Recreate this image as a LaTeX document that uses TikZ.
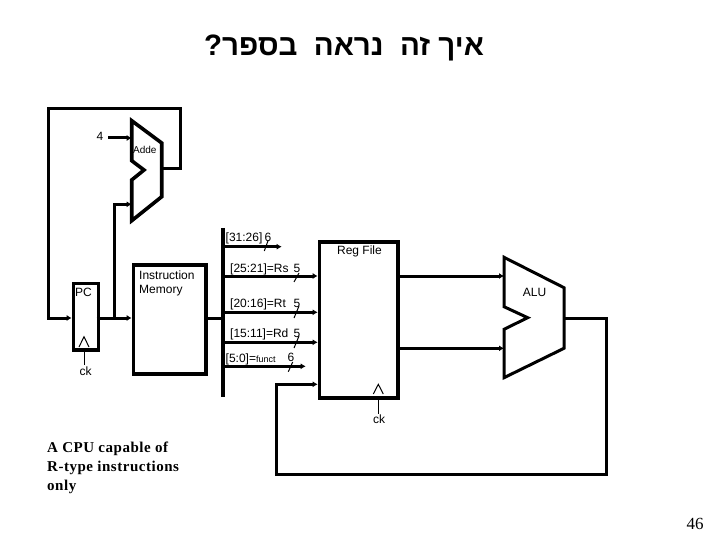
\documentclass[tikz,border=0pt]{standalone}
\usepackage{fontspec}
\setmainfont{Liberation Sans}
\newfontfamily\serifbody{Liberation Serif}
\newfontfamily\serifcap[LetterSpace=3.5]{Liberation Serif}
\newfontfamily\hebfont[Script=Hebrew]{Liberation Sans}
\TeXXeTstate=1
\usetikzlibrary{arrows.meta,calc}
\tikzset{
  x=1pt,y=-1pt,
  lbl/.style={inner sep=0pt,font=\fontsize{12}{12}\selectfont},
  lbll/.style={lbl,anchor=west},
  box/.style={draw=black,line width=3.6pt,minimum width=0pt,inner sep=0pt,anchor=north west},
  wire/.style={draw=black,line width=3pt},
  wirea/.style={wire,-{Latex[length=5pt,width=6pt]}},
  thinw/.style={draw=black,line width=1pt},
  outline/.style={draw=black,line width=3.6pt,line join=miter},
  captext/.style={inner sep=0pt,anchor=west,font=\serifcap\bfseries\fontsize{15}{15}\selectfont}
}
\begin{document}
\begin{tikzpicture}
\useasboundingbox (0,0) rectangle (720,540);
% title
\node[inner sep=0pt] (title) at (344,48) {\hebfont\bfseries\fontsize{29.5}{30}\selectfont\beginR איך זה\ \ נראה\ \ בספר?\endR};
% boxes
\node[box,minimum width=25pt,minimum height=66.5pt] (pc) at (71.7,281.7) {};
\node[box,minimum width=72.6pt,minimum height=109pt] (im) at (131.7,263.3) {};
\node[box,minimum width=78.3pt,minimum height=156pt] (rf) at (317.7,240) {};
% adder
\coordinate (a1) at (131.7,120.7);
\coordinate (a2) at (161.7,143);
\coordinate (a3) at (161.7,196.7);
\coordinate (a4) at (131.7,220.7);
\coordinate (a5) at (131.7,180);
\coordinate (a6) at (144,170);
\coordinate (a7) at (131.7,160.7);
\draw[outline] (a1)--(a2)--(a3)--(a4)--(a5)--(a6)--(a7)--cycle;
% alu
\coordinate (b1) at (504,257.3);
\coordinate (b2) at (564,287.7);
\coordinate (b3) at (564,348.3);
\coordinate (b4) at (504,377.7);
\coordinate (b5) at (504,329.3);
\coordinate (b6) at (527.7,317.7);
\coordinate (b7) at (504,306.7);
\draw[outline,line width=3pt] (b1)--(b2)--(b3)--(b4)--(b5)--(b6)--(b7)--cycle;
% labels
\node[lbl] (four) at (100,136.5) {4};
\node[inner sep=0pt,anchor=west,font=\fontsize{10}{10}\selectfont] (addl) at (133,149.5) {Adde};
\node[lbl] (pcl) at (83.5,292.5) {PC};
\node[lbll] (im1) at (139,275) {Instruction};
\node[lbll] (im2) at (139,290.5) {Memory};
\node[lbl] (ck1) at (85.5,371) {ck};
\node[lbl] (rfl) at (359.5,251) {Reg File};
\node[lbl] (ck2) at (379,419) {ck};
\node[lbl] (alul) at (534.5,292.5) {ALU};
\node[lbll] (t1) at (225.5,238.5) {[31:26]};
\node[lbl] (n1) at (268,237) {6};
\node[lbll] (t2) at (230,269.5) {[25:21]=Rs};
\node[lbl] (n2) at (297,268) {5};
\node[lbll] (t3) at (230,304.5) {[20:16]=Rt};
\node[lbl] (n3) at (297,303) {5};
\node[lbll] (t4) at (230,334.5) {[15:11]=Rd};
\node[lbl] (n4) at (297,333) {5};
\node[lbll] (t5) at (225.5,359.5) {[5:0]=\fontsize{9}{9}\selectfont funct};
\node[lbl] (n5) at (291,357) {6};
\node[captext] (c1) at (47,448.5) {A CPU capable of};
\node[captext] (c2) at (47,467.5) {R-type instructions};
\node[captext] (c3) at (47,486.5) {only};
\node[inner sep=0pt,font=\serifbody\fontsize{17}{17}\selectfont] (page) at (695,524) {46};
% junctions
\coordinate (fbA) at (180,168.3);
\coordinate (fbB) at (180,108.3);
\coordinate (fbC) at (48.3,108.3);
\coordinate (fbD) at (48.3,318);
\coordinate (pcin) at (71.7,318);
\coordinate (pcout) at (96.7,318);
\coordinate (imin) at (131.7,318);
\coordinate (tap) at (114,318);
\coordinate (tapup) at (114,204.3);
\coordinate (addin) at (131.7,204.3);
\coordinate (fourS) at (108,138);
\coordinate (fourE) at (131.7,138);
\coordinate (addout) at (161.7,168.3);
\coordinate (imout) at (204.3,318);
\coordinate (busT) at (222.7,228);
\coordinate (busB) at (222.7,396.7);
\coordinate (busM) at (222.7,318);
% wires
\draw[wirea,line join=miter] (addout)--(fbA)--(fbB)--(fbC)--(fbD)--(pcin);
\draw[wirea] (pcout)--(imin);
\draw[wirea,line join=miter] (tap)--(tapup)--(addin);
\draw[wirea] (fourS)--(fourE);
\draw[wire] (imout)--(busM);
\draw[wire,line width=3.6pt] (busT)--(busB);
\foreach \n/\y/\xe in {r1/246.7/281.7,r2/276/317.7,r3/312.3/317.7,r4/342.3/317.7,r5/366.3/305.7}{
  \coordinate (\n s) at (222.7,\y);
  \coordinate (\n e) at (\xe,\y);
  \draw[wirea] (\n s)--(\n e);
}
\coordinate (wb1) at (276.7,384.3);
\coordinate (wb2) at (276.7,474.3);
\coordinate (wb3) at (606.7,474.3);
\coordinate (wb4) at (606.7,318.3);
\coordinate (aluout) at (564,318.3);
\coordinate (wbe) at (317.7,384.3);
\draw[wirea,line join=miter] (aluout)--(wb4)--(wb3)--(wb2)--(wb1)--(wbe);
\coordinate (o1s) at (396,276);
\coordinate (o1e) at (504,276);
\coordinate (o2s) at (396,348.3);
\coordinate (o2e) at (504,348.3);
\draw[wirea] (o1s)--(o1e);
\draw[wirea] (o2s)--(o2e);
% clocks
\coordinate (k1a) at (79,347);\coordinate (k1b) at (84,336.7);\coordinate (k1c) at (89,347);
\draw[thinw] (k1a)--(k1b)--(k1c);
\coordinate (k1s) at (84,348);\coordinate (k1e) at (84,365);
\draw[thinw] (k1s)--(k1e);
\coordinate (k2a) at (373.3,394);\coordinate (k2b) at (378.3,384.3);\coordinate (k2c) at (383.3,394);
\draw[thinw] (k2a)--(k2b)--(k2c);
\coordinate (k2s) at (378.3,396);\coordinate (k2e) at (378.3,414);
\draw[thinw] (k2s)--(k2e);
% bus slashes
\foreach \n/\xa/\ya/\xb/\yb in {s1/268.3/240/264.3/251,s2/299/273/294/282,s3/299/306/294/318,s4/299/336/294/348,s5/292.7/362/288.3/371.7}{
  \coordinate (\n a) at (\xa,\ya);
  \coordinate (\n b) at (\xb,\yb);
  \draw[thinw] (\n a)--(\n b);
}
\end{tikzpicture}
\end{document}
